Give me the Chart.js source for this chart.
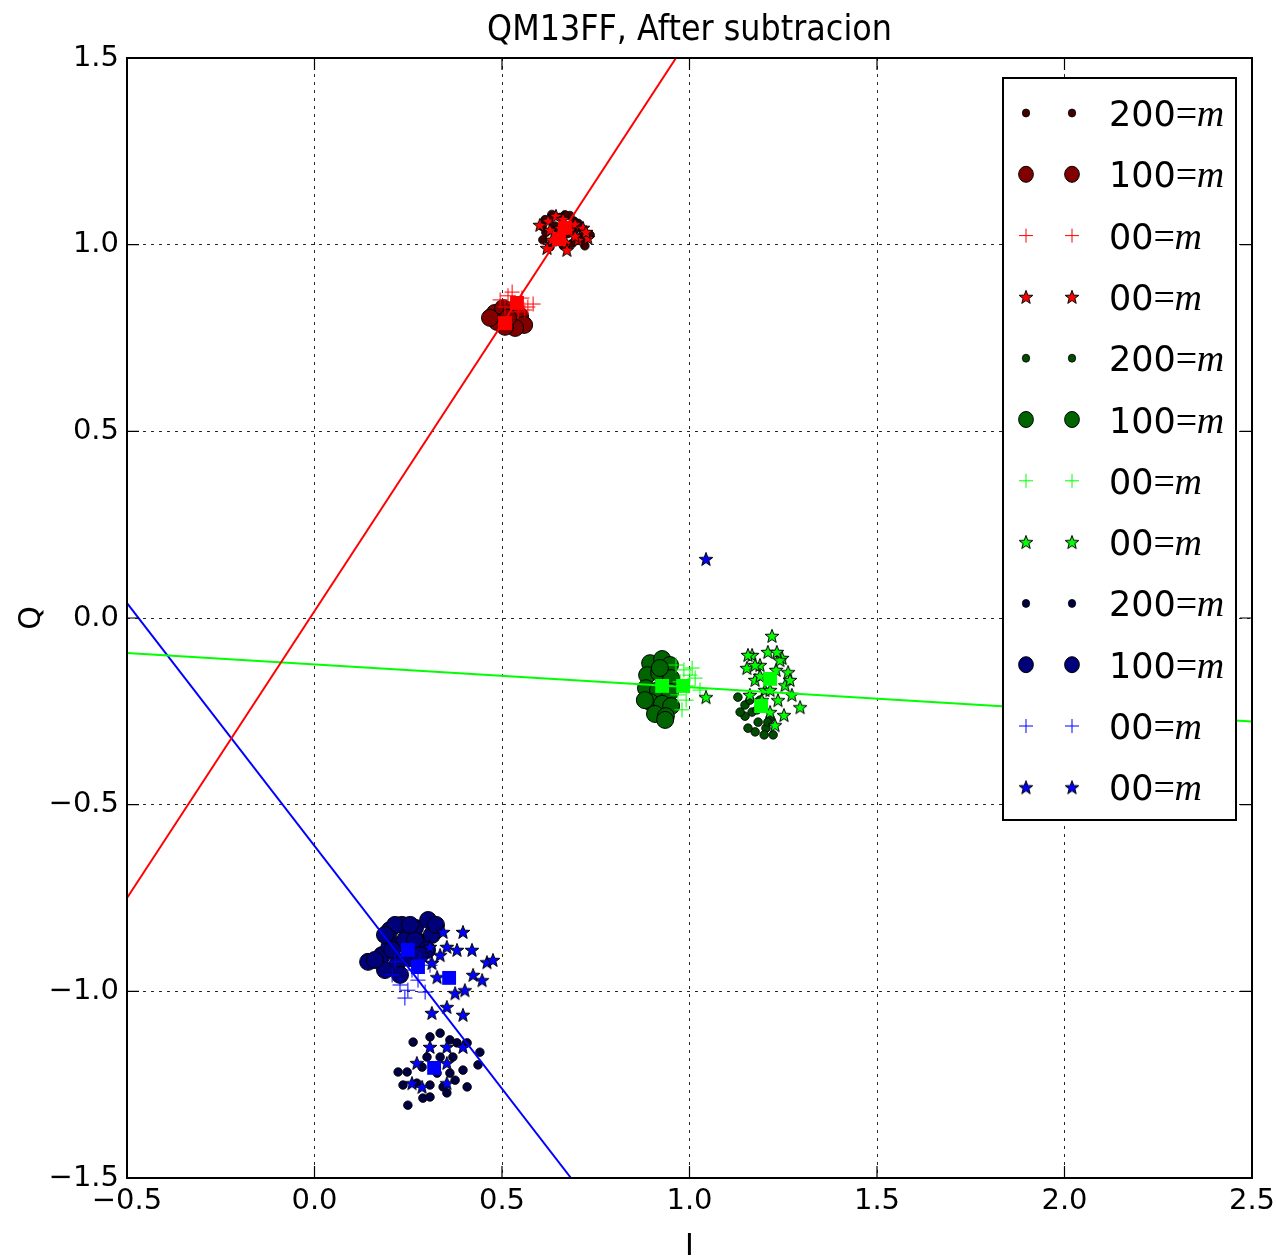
<!DOCTYPE html>
<html>
<head>
<meta charset="utf-8">
<title>QM13FF, After subtracion</title>
<script src="https://cdn.jsdelivr.net/npm/chart.js@4.4.1/dist/chart.umd.min.js"></script>
<style>
  html, body { margin: 0; padding: 0; background: #fff; }
  #wrap { width: 1276px; height: 1256px; position: relative; }
</style>
</head>
<body>
<div id="wrap"><canvas id="iq"></canvas></div>
<script>
// ── Axis ticks ───────────────────────────────────────────────
const xTicks = [-0.5, 0, 0.5, 1, 1.5, 2, 2.5];
const yTicks = [-1.5, -1, -0.5, 0, 0.5, 1, 1.5];

const chartTitle = 'QM13FF, After subtracion';
const xLabel = 'I';
const yLabel = 'Q';

// legend text (number part, "=m" is appended)
const legendLabels = ['200', '100', '00', '00', '200', '100', '00', '00', '200', '100', '00', '00'];

// ── Points, [I, Q] ───────────────────────────────────────────
const redDots200 = [[0.615,1.067],[0.633,1.081],[0.655,1.073],[0.681,1.078],[0.703,1.057],[0.719,1.030],[0.708,1.011],[0.687,1.003],[0.663,0.998],[0.636,1.009],[0.617,1.033],[0.607,1.049],[0.647,1.044],[0.676,1.030],[0.695,1.041],[0.724,1.017],[0.609,1.013],[0.628,0.994],[0.735,1.026],[0.721,0.997],[0.655,1.031],[0.692,1.063],[0.668,1.080],[0.641,1.050]];
const redCircles100 = [[0.481,0.817],[0.503,0.830],[0.527,0.825],[0.548,0.809],[0.559,0.785],[0.535,0.777],[0.508,0.780],[0.487,0.793],[0.516,0.804],[0.468,0.804]];
const redPlus00 = [[0.495,0.852],[0.516,0.863],[0.535,0.844],[0.553,0.857],[0.569,0.833],[0.583,0.841],[0.543,0.820],[0.508,0.833],[0.527,0.873],[0.561,0.825]];
const redStars00 = [[0.623,1.064],[0.644,1.077],[0.663,1.069],[0.628,1.039],[0.695,1.055],[0.716,1.045],[0.729,1.018],[0.703,1.013],[0.671,1.005],[0.649,1.023],[0.681,1.039],[0.633,1.013],[0.601,1.053],[0.655,1.045],[0.695,1.023],[0.724,1.034],[0.673,0.986],[0.620,0.991]];

const greenDots200 = [[1.129,-0.212],[1.148,-0.233],[1.167,-0.252],[1.148,-0.263],[1.183,-0.279],[1.204,-0.295],[1.175,-0.305],[1.199,-0.313],[1.215,-0.268],[1.135,-0.252],[1.161,-0.220],[1.188,-0.220],[1.180,-0.246],[1.209,-0.279],[1.156,-0.295],[1.223,-0.313]];
const greenCircles100 = [[0.895,-0.121],[0.927,-0.110],[0.948,-0.126],[0.887,-0.153],[0.919,-0.147],[0.951,-0.161],[0.884,-0.188],[0.916,-0.193],[0.948,-0.198],[0.895,-0.225],[0.927,-0.230],[0.951,-0.236],[0.908,-0.257],[0.937,-0.263],[0.881,-0.220],[0.921,-0.134],[0.935,-0.273]];
const greenPlus00 = [[0.964,-0.126],[0.985,-0.139],[1.001,-0.153],[0.975,-0.171],[0.996,-0.182],[1.015,-0.161],[1.028,-0.193],[0.969,-0.206],[0.991,-0.220],[0.980,-0.246],[1.007,-0.134]];
const greenStars00 = [[1.220,-0.048],[1.167,-0.099],[1.209,-0.091],[1.247,-0.107],[1.153,-0.134],[1.188,-0.126],[1.231,-0.139],[1.263,-0.145],[1.175,-0.166],[1.255,-0.180],[1.201,-0.193],[1.273,-0.206],[1.161,-0.206],[1.236,-0.220],[1.215,-0.252],[1.295,-0.239],[1.044,-0.212],[1.241,-0.113],[1.188,-0.155],[1.156,-0.099],[1.233,-0.091],[1.193,-0.220],[1.268,-0.166],[1.215,-0.193],[1.175,-0.126],[1.252,-0.260],[1.228,-0.287]];

const blueDots200 = [[0.263,-1.136],[0.308,-1.122],[0.335,-1.112],[0.361,-1.130],[0.380,-1.138],[0.407,-1.138],[0.441,-1.163],[0.436,-1.197],[0.300,-1.176],[0.335,-1.176],[0.369,-1.176],[0.247,-1.216],[0.287,-1.203],[0.327,-1.219],[0.361,-1.219],[0.396,-1.211],[0.223,-1.216],[0.236,-1.251],[0.273,-1.246],[0.308,-1.251],[0.343,-1.256],[0.375,-1.238],[0.407,-1.256],[0.249,-1.305],[0.289,-1.286],[0.353,-1.272],[0.308,-1.283]];
const blueCircles100 = [[0.143,-0.921],[0.180,-0.903],[0.215,-0.876],[0.201,-0.836],[0.233,-0.822],[0.268,-0.830],[0.303,-0.809],[0.241,-0.863],[0.281,-0.868],[0.313,-0.849],[0.188,-0.943],[0.223,-0.921],[0.200,-0.880],[0.255,-0.911],[0.215,-0.822],[0.268,-0.863],[0.300,-0.889],[0.324,-0.822],[0.161,-0.916],[0.207,-0.889],[0.255,-0.822],[0.281,-0.903],[0.228,-0.956],[0.188,-0.849]];
const bluePlus00 = [[0.207,-0.956],[0.228,-0.983],[0.249,-0.997],[0.276,-0.970],[0.295,-1.002],[0.215,-0.921],[0.260,-0.943],[0.308,-0.930],[0.241,-1.018],[0.281,-0.916]];
const blueStars00 = [[0.343,-0.841],[0.396,-0.841],[0.353,-0.881],[0.380,-0.889],[0.420,-0.889],[0.308,-0.881],[0.335,-0.903],[0.460,-0.922],[0.476,-0.916],[0.423,-0.956],[0.447,-0.970],[0.401,-0.997],[0.375,-1.005],[0.327,-0.962],[0.313,-0.924],[0.313,-1.058],[0.353,-1.042],[0.396,-1.063],[0.273,-1.192],[0.308,-1.149],[0.353,-1.149],[0.396,-1.149],[0.353,-1.192],[0.260,-1.246],[0.287,-1.256],[0.353,-1.246],[1.044,0.158]];

// group means (the squares)
const redMeans = [[0.668,1.045],[0.652,1.015],[0.540,0.844],[0.508,0.790]];
const greenMeans = [[0.927,-0.182],[0.983,-0.182],[1.215,-0.163],[1.191,-0.236]];
const blueMeans = [[0.249,-0.889],[0.276,-0.935],[0.359,-0.964],[0.319,-1.205]];

// fitted lines, end points
const redFit = [[-0.5,-0.75],[0.964,1.5]];
const greenFit = [[-0.5,-0.094],[2.5,-0.277]];
const blueFit = [[-0.5,0.04],[0.684,-1.5]];

// ── Styles ───────────────────────────────────────────────────
const RED   = { dot: '#400000', big: '#800000', bright: '#ff0000' };
const GREEN = { dot: '#004c00', big: '#006400', bright: '#00ff00' };
const BLUE  = { dot: '#000040', big: '#000078', bright: '#0000ff' };

// filled star with black edge, used as a pointStyle image
function starImg(fill) {
  const c = document.createElement('canvas');
  c.width = 18; c.height = 18;
  const g = c.getContext('2d');
  const R = 7.2, r = 3;
  g.beginPath();
  for (let i = 0; i < 10; i++) {
    const rad = (i % 2 === 0) ? R : r;
    const a = -Math.PI / 2 + i * Math.PI / 5;
    const px = 9 + rad * Math.cos(a), py = 9.6 + rad * Math.sin(a);
    if (i === 0) g.moveTo(px, py); else g.lineTo(px, py);
  }
  g.closePath();
  g.fillStyle = fill; g.fill();
  g.lineWidth = 1; g.strokeStyle = '#000'; g.stroke();
  return c;
}

const series = [
  { data: redDots200,      kind: 'dot',    color: RED.dot },
  { data: redCircles100,   kind: 'circle', color: RED.big },
  { data: redPlus00,       kind: 'plus',   color: RED.bright },
  { data: redStars00,      kind: 'star',   color: RED.bright },
  { data: greenDots200,    kind: 'dot',    color: GREEN.dot },
  { data: greenCircles100, kind: 'circle', color: GREEN.big },
  { data: greenPlus00,     kind: 'plus',   color: GREEN.bright },
  { data: greenStars00,    kind: 'star',   color: GREEN.bright },
  { data: blueDots200,     kind: 'dot',    color: BLUE.dot },
  { data: blueCircles100,  kind: 'circle', color: BLUE.big },
  { data: bluePlus00,      kind: 'plus',   color: BLUE.bright },
  { data: blueStars00,     kind: 'star',   color: BLUE.bright }
];

const drawOrder = { dot: 6, circle: 5, plus: 4, star: 3 };

function markerProps(kind, color) {
  if (kind === 'dot')    return { pointStyle: 'circle', pointRadius: 4.3, backgroundColor: color, borderColor: '#000', borderWidth: 0.8 };
  if (kind === 'circle') return { pointStyle: 'circle', pointRadius: 8.5, backgroundColor: color, borderColor: '#000', borderWidth: 1 };
  if (kind === 'plus')   return { pointStyle: 'cross', pointRadius: 7.5, backgroundColor: color, borderColor: color, borderWidth: 1 };
  return { pointStyle: starImg(color), pointRadius: 7, backgroundColor: color, borderColor: '#000', borderWidth: 1 };
}

const toXY = arr => arr.map(p => ({ x: p[0], y: p[1] }));

const datasets = [];
series.forEach((s, i) => {
  const m = markerProps(s.kind, s.color);
  datasets.push(Object.assign({ label: legendLabels[i], data: toXY(s.data), order: drawOrder[s.kind], pointHoverRadius: m.pointRadius }, m));
  s.marker = m;
});

[[redFit, RED.bright], [greenFit, GREEN.bright], [blueFit, BLUE.bright]].forEach(([d, c]) => {
  datasets.push({ data: toXY(d), showLine: true, borderColor: c, borderWidth: 2, pointRadius: 0, order: 2 });
});

[[redMeans, RED.bright], [greenMeans, GREEN.bright], [blueMeans, BLUE.bright]].forEach(([d, c]) => {
  datasets.push({ data: toXY(d), pointStyle: 'rect', pointRadius: 9.8, backgroundColor: c, borderColor: c, borderWidth: 0, order: 1 });
});

// ── Frame, inward ticks, titles and legend ───────────────────
const decor = {
  id: 'decor',
  afterDraw(chart) {
    const ctx = chart.ctx, a = chart.chartArea;
    const xs = chart.scales.x, ys = chart.scales.y;
    ctx.save();

    // legend box
    const lx = 1003, ly = 78, lw = 233, lh = 742;
    ctx.fillStyle = '#fff';
    ctx.fillRect(lx, ly, lw, lh);
    ctx.strokeStyle = '#000'; ctx.lineWidth = 2;
    ctx.strokeRect(lx, ly, lw, lh);

    series.forEach((s, i) => {
      const y = 113 + i * 61.3;
      [1026, 1072].forEach(x => drawMarker(ctx, s.kind, s.marker, x, y));
      ctx.fillStyle = '#000';
      ctx.textBaseline = 'alphabetic';
      ctx.textAlign = 'left';
      ctx.font = '35px "DejaVu Sans"';
      const num = legendLabels[i];
      ctx.fillText(num, 1109, y + 13);
      const eqX = 1109 + ctx.measureText(num).width;
      ctx.font = '38px "Liberation Serif"';
      ctx.fillText('=', eqX, y + 13);
      ctx.font = 'italic 38px "Liberation Serif"';
      ctx.fillText('m', eqX + 21, y + 13);
    });

    // frame
    ctx.strokeStyle = '#000'; ctx.lineWidth = 2;
    ctx.strokeRect(a.left, a.top, a.right - a.left, a.bottom - a.top);

    // ticks point inwards on all four sides
    ctx.lineWidth = 1.2;
    ctx.beginPath();
    xTicks.forEach(v => {
      const px = xs.getPixelForValue(v);
      ctx.moveTo(px, a.bottom); ctx.lineTo(px, a.bottom - 12);
      ctx.moveTo(px, a.top);    ctx.lineTo(px, a.top + 12);
    });
    yTicks.forEach(v => {
      const py = ys.getPixelForValue(v);
      ctx.moveTo(a.left, py);  ctx.lineTo(a.left + 12, py);
      ctx.moveTo(a.right, py); ctx.lineTo(a.right - 12, py);
    });
    ctx.stroke();

    // title, a little condensed like the original
    ctx.fillStyle = '#000';
    ctx.textAlign = 'center';
    ctx.textBaseline = 'alphabetic';
    ctx.save();
    ctx.translate((a.left + a.right) / 2, 40);
    ctx.scale(0.885, 1);
    ctx.font = '36px "DejaVu Sans"';
    ctx.fillText(chartTitle, 0, 0);
    ctx.restore();

    // axis labels
    ctx.font = '30px "DejaVu Sans"';
    ctx.fillText(xLabel, (a.left + a.right) / 2, 1255);
    ctx.save();
    ctx.translate(40, (a.top + a.bottom) / 2);
    ctx.rotate(-Math.PI / 2);
    ctx.fillText(yLabel, 0, 0);
    ctx.restore();

    ctx.restore();
  }
};

function drawMarker(ctx, kind, m, x, y) {
  ctx.save();
  if (kind === 'star') {
    ctx.drawImage(m.pointStyle, x - 9, y - 9);
  } else if (kind === 'plus') {
    ctx.strokeStyle = m.borderColor; ctx.lineWidth = 1;
    ctx.beginPath();
    ctx.moveTo(x - 7, y); ctx.lineTo(x + 7, y);
    ctx.moveTo(x, y - 7); ctx.lineTo(x, y + 7);
    ctx.stroke();
  } else {
    const r = kind === 'dot' ? 4 : 8;
    ctx.beginPath();
    ctx.ellipse(x, y, r * 0.92, r, 0, 0, Math.PI * 2);
    ctx.fillStyle = m.backgroundColor; ctx.fill();
    ctx.strokeStyle = '#000'; ctx.lineWidth = m.borderWidth; ctx.stroke();
  }
  ctx.restore();
}

// ── Chart ────────────────────────────────────────────────────
Chart.defaults.font.family = '"DejaVu Sans"';
Chart.defaults.color = '#000';

const fmt = v => Number(v).toFixed(1).replace('-', '\u2212');

new Chart(document.getElementById('iq'), {
  type: 'scatter',
  data: { datasets: datasets },
  options: {
    responsive: true,
    maintainAspectRatio: false,
    devicePixelRatio: 1,
    animation: false,
    events: [],
    layout: { autoPadding: false, padding: { top: 58, right: 24, bottom: 0, left: 0 } },
    plugins: {
      legend: { display: false },
      tooltip: { enabled: false },
      title: { display: false }
    },
    scales: {
      x: {
        type: 'linear',
        min: -0.5, max: 2.5,
        afterBuildTicks: s => { s.ticks = xTicks.map(v => ({ value: v })); },
        afterFit: s => { s.height = 78; s.paddingLeft = 0; s.paddingRight = 0; },
        ticks: { callback: fmt, font: { size: 29 }, color: '#000', padding: 6, maxRotation: 0, autoSkip: false },
        grid: { color: 'rgba(0,0,0,0.85)', lineWidth: 1, drawTicks: false },
        border: { display: false, dash: [3, 5] }
      },
      y: {
        type: 'linear',
        min: -1.5, max: 1.5,
        afterBuildTicks: s => { s.ticks = yTicks.map(v => ({ value: v })); },
        afterFit: s => { s.width = 127; s.paddingTop = 0; s.paddingBottom = 0; },
        ticks: { callback: fmt, font: { size: 29 }, color: '#000', padding: 8, autoSkip: false },
        grid: { color: 'rgba(0,0,0,0.85)', lineWidth: 1, drawTicks: false },
        border: { display: false, dash: [3, 5] }
      }
    }
  },
  plugins: [decor]
});
</script>
</body>
</html>
